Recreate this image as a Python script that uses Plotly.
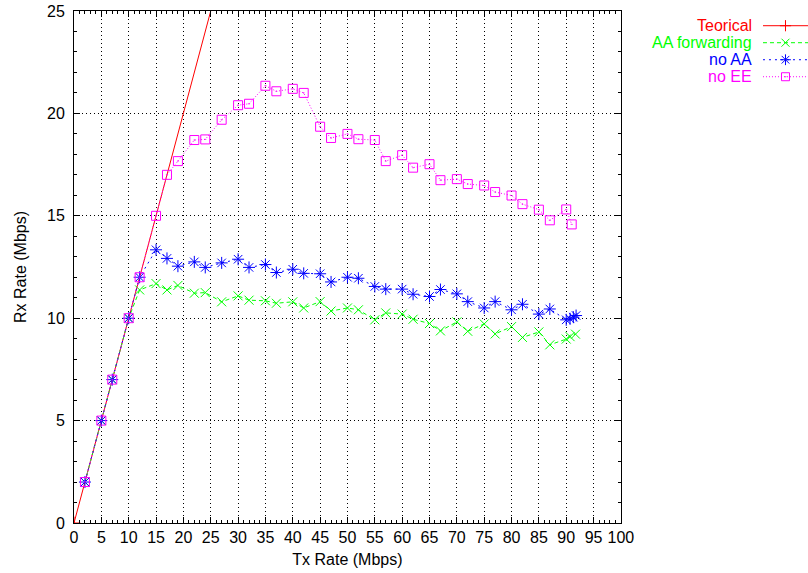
import plotly.graph_objects as go

# ---- data ----
tx_common = [2, 5, 7, 10, 12, 15, 17, 19, 22, 24, 27, 30, 32, 35, 37, 40, 42, 45,
             47, 50, 52, 55, 57, 60, 62, 65, 67, 70, 72, 75, 77, 80, 82, 85, 87, 90]

teorical_x = [0, 100]
teorical_y = [0, 100]

aa_fwd_x = tx_common + [90.7, 91.7]
aa_fwd_y = [2, 5, 7, 10, 11.38, 11.69, 11.38, 11.6, 11.22, 11.25, 10.8, 11.09,
            10.88, 10.85, 10.73, 10.8, 10.5, 10.81, 10.35, 10.5, 10.41, 9.92, 10.26, 10.2,
            9.95, 9.74, 9.38, 9.82, 9.36, 9.72, 9.23, 9.59, 9.06, 9.33, 8.7, 8.98,
            9.1, 9.22]

no_aa_x = tx_common + [90.7, 91.3, 91.8]
no_aa_y = [2, 5, 7, 10, 12.0, 13.34, 12.92, 12.54, 12.75, 12.48, 12.70, 12.88,
           12.48, 12.62, 12.23, 12.39, 12.19, 12.17, 11.77, 12.0, 11.95, 11.55, 11.42, 11.42,
           11.17, 11.06, 11.4, 11.19, 10.81, 10.5, 10.81, 10.41, 10.68, 10.2, 10.45, 9.92,
           9.97, 10.05, 10.13]

no_ee_x = tx_common + [91]
no_ee_y = [2, 5, 7, 10, 12.0, 15.0, 17.0, 17.67, 18.7, 18.73, 19.69, 20.4,
           20.47, 21.35, 21.08, 21.2, 21.0, 19.35, 18.8, 19.0, 18.74, 18.7, 17.67, 17.96,
           17.35, 17.52, 16.74, 16.79, 16.55, 16.48, 16.16, 15.99, 15.57, 15.3, 14.78, 15.31,
           14.58]

series_names = ["Teorical", "AA forwarding", "no AA", "no EE"]
series_colors = ["#ff0000", "#00ff00", "#0000ff", "#ff00ff"]
series_dash = ["solid", "4px,3px", "2px,4px", "1px,2px"]
series_symbols = ["cross-thin-open", "x-thin-open", "asterisk-open", "square-open-dot"]
series_sizes = [9, 9, 10, 9]

x_ticks = list(range(0, 101, 5))
y_ticks = list(range(0, 26, 5))

FONT = "Liberation Sans, Arial, sans-serif"
FS = 16

W, H = 808, 573
L = 74.3
T = 11.3
B = H - 523.1
plot_w_px = 621 - 74.3
PW = W - L

fig = go.Figure()

data = [(teorical_x, teorical_y), (aa_fwd_x, aa_fwd_y), (no_aa_x, no_aa_y), (no_ee_x, no_ee_y)]
for (xs, ys), name, col, dash, sym, sz in zip(data, series_names, series_colors,
                                               series_dash, series_symbols, series_sizes):
    fig.add_trace(go.Scatter(
        x=xs, y=ys, name=name, mode="lines+markers",
        line=dict(color=col, width=1, dash=dash),
        marker=dict(symbol=sym, size=sz, color=col, line=dict(color=col, width=1)),
        showlegend=False, cliponaxis=True,
    ))

# ---- custom gnuplot-style legend (text right, sample left-to-right) ----
row_px = [26, 43, 60, 77]
for i, (name, col, dash, sym, sz) in enumerate(zip(series_names, series_colors,
                                                   series_dash, series_symbols, series_sizes)):
    fig.add_trace(go.Scatter(
        x=[0, 0.5, 1], y=[row_px[i]] * 3, mode="lines",
        line=dict(color=col, width=1, dash=dash),
        xaxis="x2", yaxis="y2", showlegend=False, hoverinfo="skip",
    ))
    fig.add_trace(go.Scatter(
        x=[0.5], y=[row_px[i]], mode="markers",
        marker=dict(symbol=sym, size=sz - 1, color=col, line=dict(color=col, width=1)),
        xaxis="x2", yaxis="y2", showlegend=False, hoverinfo="skip",
    ))
    fig.add_annotation(
        xref="paper", yref="y2", x=(754 - L) / PW, y=row_px[i],
        text=name, showarrow=False, xanchor="right", yanchor="middle",
        font=dict(family=FONT, size=FS, color=col),
    )

axis_common = dict(
    automargin=False, ticklabeloverflow="allow",
    showline=True, linecolor="black", linewidth=1, mirror="ticks",
    ticks="inside", ticklen=6, tickcolor="black", tickwidth=1,
    showgrid=True, gridcolor="#000000", gridwidth=1, griddash="1px,3px",
    zeroline=False, tickfont=dict(family=FONT, size=FS, color="black"),
    minor=dict(ticks="inside", ticklen=3, dtick=1, tickcolor="black", showgrid=False),
)

fig.update_layout(
    width=W, height=H,
    margin=dict(l=L, r=0, t=T, b=B, pad=0),
    paper_bgcolor="white", plot_bgcolor="white",
    font=dict(family=FONT, size=FS, color="black"),
    hovermode=False,
    xaxis=dict(
        domain=[0, plot_w_px / PW], range=[0, 100],
        tickmode="array", tickvals=x_ticks, ticktext=[str(v) for v in x_ticks],
        ticklabelstandoff=0,
        title=dict(text="Tx Rate (Mbps)", font=dict(family=FONT, size=FS), standoff=8),
        **axis_common,
    ),
    yaxis=dict(
        range=[0, 25],
        tickmode="array", tickvals=y_ticks, ticktext=[str(v) for v in y_ticks],
        ticklabelstandoff=5,
        title=dict(text="Rx Rate (Mbps)", font=dict(family=FONT, size=FS), standoff=16),
        **axis_common,
    ),
    xaxis2=dict(domain=[(763 - L) / PW, 1.0], range=[0, 1], visible=False,
                anchor="y2", fixedrange=True),
    yaxis2=dict(domain=[0, 1], range=[H - B, T], visible=False, anchor="x2",
                fixedrange=True),
)

fig.write_html("out.html", config={"displayModeBar": False, "staticPlot": True},
               post_script="document.body.style.margin='0';")
